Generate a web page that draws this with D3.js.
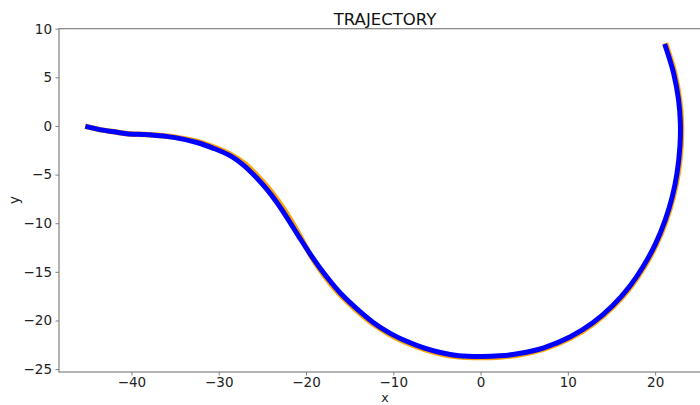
<!DOCTYPE html>
<html>
<head>
<meta charset="utf-8">
<script src="https://cdn.jsdelivr.net/npm/d3@7"></script>
<style>
  body { margin: 0; background: #fff; }
  svg { display: block; font-family: "DejaVu Sans", sans-serif; }
</style>
</head>
<body>
<svg class="chart"></svg>
<script>
// ground truth trajectory (orange)
var truthX = [-45.0, -43.5, -42.0, -40.5, -38.0, -35.0, -32.5, -30.5, -28.5, -27.0, -25.6, -24.3, -23.2, -22.0,
  -20.7, -19.5, -18.5, -17.2, -16.2, -14.2, -12.4, -10.35, -8.45, -6.5, -4.6, -2.5, 0.0, 2.22, 4.25, 7.28,
  10.34, 12.93, 15.2, 17.18, 18.73, 20.14, 21.26, 22.06, 22.62, 22.96, 23.01, 22.8, 22.24, 21.29];
var truthY = [-0.1, -0.4, -0.6, -0.8, -0.9, -1.15, -1.6, -2.2, -3.0, -3.9, -5.1, -6.4, -7.7, -9.3,
  -11.3, -13.25, -14.65, -16.2, -17.25, -18.97, -20.3, -21.47, -22.3, -22.95, -23.42, -23.74, -23.82, -23.76, -23.55, -22.93,
  -21.79, -20.34, -18.58, -16.56, -14.52, -12.18, -9.73, -7.35, -4.93, -2.11, 0.3, 2.7, 5.44, 8.24];

// predicted trajectory (blue)
var predX = [-45.0, -43.5, -42.0, -40.5, -38.0, -35.0, -32.5, -30.6, -28.6, -27.2, -25.8, -24.5, -23.4, -22.2,
  -20.8, -19.5, -18.4, -17.1, -16.1, -14.1, -12.3, -10.3, -8.4, -6.5, -4.6, -2.5, 0.0, 2.21, 4.23, 7.24,
  10.29, 12.86, 15.12, 17.09, 18.63, 20.04, 21.15, 21.95, 22.5, 22.84, 22.89, 22.68, 22.12, 21.18];
var predY = [-0.1, -0.4, -0.6, -0.8, -0.9, -1.2, -1.7, -2.3, -3.1, -4.0, -5.2, -6.5, -7.8, -9.4,
  -11.4, -13.2, -14.6, -16.1, -17.15, -18.86, -20.2, -21.35, -22.17, -22.83, -23.3, -23.62, -23.7, -23.64, -23.43, -22.81,
  -21.68, -20.24, -18.49, -16.48, -14.45, -12.12, -9.68, -7.31, -4.9, -2.1, 0.3, 2.69, 5.41, 8.19];

var xTicks = [-40, -30, -20, -10, 0, 10, 20];
var yTicks = [-25, -20, -15, -10, -5, 0, 5, 10];

var margin = {top: 28.7, left: 59},
    width = 652,
    height = 343.3;

var svg = d3.select(".chart")
    .attr("width", 700)
    .attr("height", 405);

var chart = svg.append("g")
    .attr("transform", "translate(" + margin.left + "," + margin.top + ")");

var scaleX = d3.scaleLinear().domain([-48.3, 26.4]).range([0, width]);
var scaleY = d3.scaleLinear().domain([-25.3, 10]).range([height, 0]);

var truth = truthX.map(function(x, i) { return [x, truthY[i]]; });
var pred = predX.map(function(x, i) { return [x, predY[i]]; });

var line = d3.line()
    .curve(d3.curveCatmullRom.alpha(0.5))
    .x(function(d) { return scaleX(d[0]); })
    .y(function(d) { return scaleY(d[1]); });

chart.append("path")
    .datum(truth)
    .attr("d", line)
    .attr("fill", "none")
    .attr("stroke", "orange")
    .attr("stroke-width", 5.5)
    .attr("stroke-linecap", "square");

chart.append("path")
    .datum(pred)
    .attr("d", line)
    .attr("fill", "none")
    .attr("stroke", "blue")
    .attr("stroke-width", 5)
    .attr("stroke-linecap", "square");

// frame
chart.append("rect")
    .attr("width", width)
    .attr("height", height)
    .attr("fill", "none")
    .attr("stroke", "#808080")
    .attr("stroke-width", 1.2);

// axes
var bottomAxis = d3.axisBottom(scaleX).tickValues(xTicks).tickSize(3.5).tickPadding(2);
var bottomAxisChart = chart.append("g")
    .attr("transform", "translate(0," + height + ")")
    .call(bottomAxis);

var leftAxis = d3.axisLeft(scaleY).tickValues(yTicks).tickSize(3.5).tickPadding(3.5);
var leftAxisChart = chart.append("g")
    .call(leftAxis);

[bottomAxisChart, leftAxisChart].forEach(function(g) {
    g.select(".domain").remove();
    g.selectAll(".tick line").attr("stroke", "#808080");
    g.selectAll(".tick text")
        .attr("fill", "#222")
        .style("font-size", "13.5px")
        .style("font-family", "DejaVu Sans, sans-serif");
});

// title and labels
svg.append("text")
    .attr("x", 385)
    .attr("y", 25)
    .attr("text-anchor", "middle")
    .style("font-size", "16.5px")
    .attr("fill", "#111")
    .text("TRAJECTORY");

svg.append("text")
    .attr("x", 385)
    .attr("y", 402)
    .attr("text-anchor", "middle")
    .style("font-size", "12.5px")
    .attr("fill", "#222")
    .text("x");

svg.append("text")
    .attr("transform", "translate(19,200) rotate(-90)")
    .attr("text-anchor", "middle")
    .style("font-size", "14px")
    .attr("fill", "#222")
    .text("y");
</script>
</body>
</html>
